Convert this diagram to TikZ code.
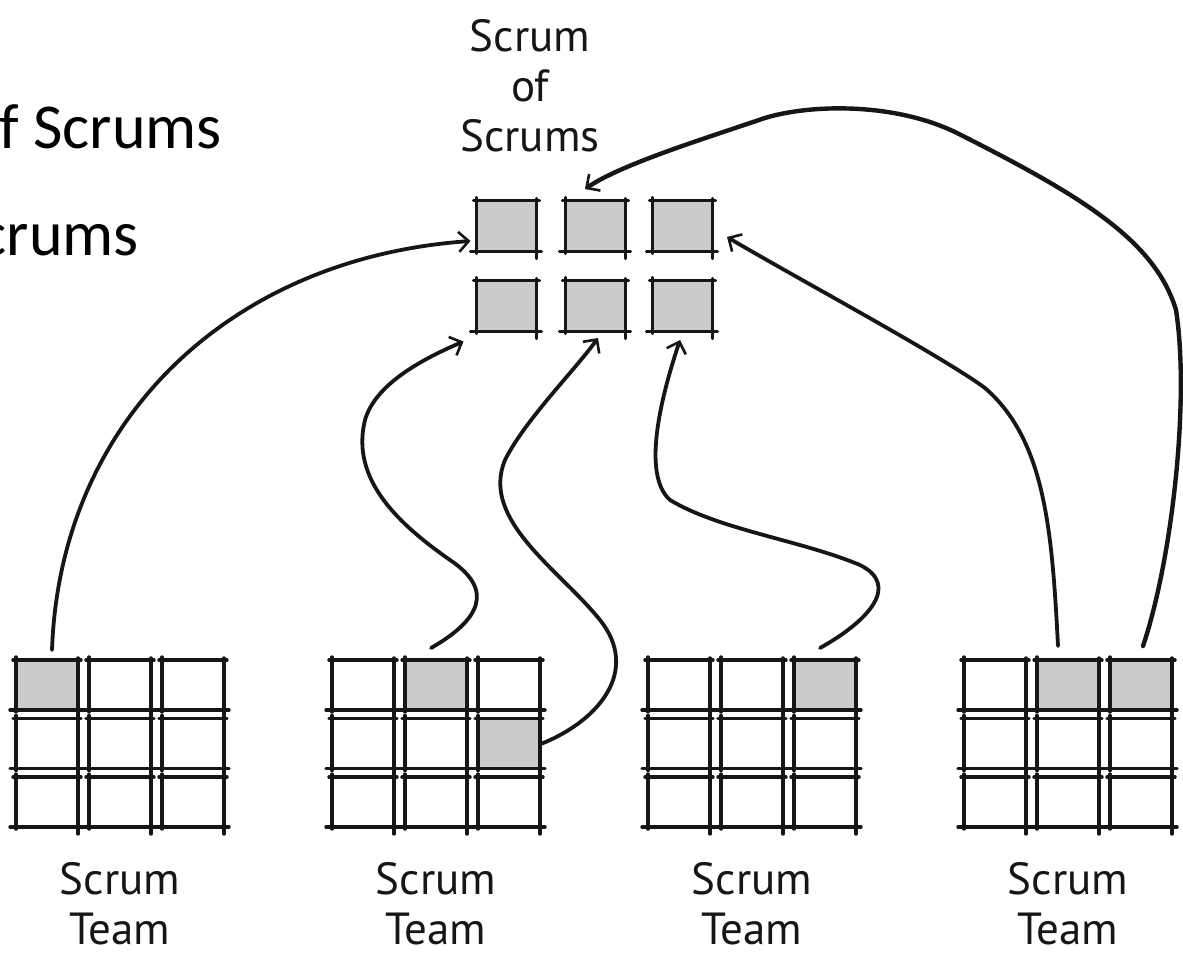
\documentclass[tikz,border=0pt]{standalone}
\usepackage{fontspec}
\setmainfont{Carlito}
\newfontfamily\handfont{PT Sans}
\usetikzlibrary{arrows.meta}
\definecolor{cellgray}{RGB}{203,203,203}
\definecolor{ink}{RGB}{22,22,22}
\tikzset{
  cellbox/.style={draw=none, inner sep=0pt, outer sep=0pt, minimum width=62pt, minimum height=50pt},
  sosbox/.style={cellbox, minimum width=60pt, minimum height=51pt, fill=cellgray},
  skline/.style={draw=ink, line width=3.4pt, line cap=round},
  flow/.style={draw=ink, line width=3.8pt, line cap=round,
    -{Straight Barb[length=10pt,width=20pt,line width=2.6pt]}},
  handlabel/.style={font=\handfont\fontsize{45}{50}\selectfont, text=ink, inner sep=0pt, align=center},
  slidetext/.style={font=\fontsize{64}{77}\selectfont, text=black, inner sep=0pt},
}
\newcommand\sketchoutline[1]{%
  \draw[skline] ([xshift=-3pt]#1.north west) -- ([xshift=3pt]#1.north east);
  \draw[skline] ([xshift=-6pt]#1.south west) -- ([xshift=5pt]#1.south east);
  \draw[skline] ([yshift=3pt]#1.north west) -- ([yshift=-2pt]#1.south west);
  \draw[skline] ([yshift=2pt]#1.north east) -- ([yshift=-7pt]#1.south east);
}
\begin{document}
\begin{tikzpicture}[x=1pt,y=-1pt]
\useasboundingbox[fill=white] (0,0) rectangle (1183,954);

% slide text remnants
\node[slidetext, anchor=base east] (slideA) at (222,148) {f Scrums};
\node[slidetext, anchor=base east] (slideB) at (139,255) {crums};

% Scrum of Scrums boxes
\foreach \r/\yy in {1/226,2/306} {
  \foreach \c/\xx in {1/506.5,2/595.5,3/682.5} {
    \node[sosbox] (s\r c\c) at (\xx,\yy) {};
  }
}
\foreach \n in {s1c1,s1c2,s1c3,s2c1,s2c2,s2c3} {\sketchoutline{\n}}

% team grids
\foreach \i in {0,...,3} {
  \foreach \r in {0,1,2} {
    \foreach \c in {0,1,2} {
      \pgfmathsetmacro\cx{16+316*\i+31+73*\c}
      \pgfmathsetmacro\cy{685+58.5*\r}
      \node[cellbox, fill=white] (t\i r\r c\c) at (\cx,\cy) {};
    }
  }
}
\foreach \n in {t0r0c0,t1r0c1,t1r1c2,t2r0c2,t3r0c1,t3r0c2} {
  \fill[cellgray] (\n.south west) rectangle (\n.north east);
}
\foreach \i in {0,...,3} {
  \foreach \r in {0,1,2} {
    \foreach \c in {0,1,2} {
      \sketchoutline{t\i r\r c\c}
    }
  }
}

% labels
\node[handlabel] (soslabel) at (530,86) {Scrum\\of\\Scrums};
\foreach \i in {0,...,3} {
  \pgfmathsetmacro\lx{16+316*\i+104}
  \node[handlabel] (team\i) at (\lx,904) {Scrum\\Team};
}

% connectors
\draw[flow] ([xshift=5pt,yshift=10pt]t0r0c0.north)
  .. controls (60,420) and (230,258) .. ([xshift=-6pt,yshift=-15pt]s1c1.west);
\draw[flow] ([xshift=-5pt,yshift=12pt]t1r0c1.north)
  .. controls (480,620) and (495,590) .. (450,560)
  .. controls (400,525) and (350,480) .. (365,420)
  .. controls (375,385) and (420,360) .. ([xshift=-13pt,yshift=-10pt]s2c1.south west);
\draw[flow] ([xshift=2pt]t1r1c2.east)
  .. controls (600,720) and (640,670) .. (600,620)
  .. controls (560,570) and (480,520) .. (505,460)
  .. controls (525,420) and (575,370) .. ([xshift=2.5pt,yshift=-6.5pt]s2c2.south);
\draw[flow] ([xshift=-5pt,yshift=12pt]t2r0c2.north)
  .. controls (870,620) and (900,585) .. (860,565)
  .. controls (800,540) and (720,530) .. (670,500)
  .. controls (642,475) and (660,400) .. ([xshift=-2.5pt,yshift=-8.5pt]s2c3.south);
\draw[flow] ([xshift=-10pt,yshift=14pt]t3r0c1.north)
  .. controls (1052,530) and (1045,440) .. (985,388)
  .. controls (940,355) and (800,280) .. ([xshift=14.5pt,yshift=-11pt]s1c3.east);
\draw[flow, line width=4.4pt] ([xshift=2pt,yshift=14pt]t3r0c2.north)
  .. controls (1172,560) and (1190,400) .. (1176,310)
  .. controls (1155,240) and (1080,195) .. (957,133)
  .. controls (890,100) and (800,105) .. (759,120)
  .. controls (700,140) and (620,165) .. ([xshift=-10.5pt,yshift=11.5pt]s1c2.north);
\end{tikzpicture}
\end{document}
